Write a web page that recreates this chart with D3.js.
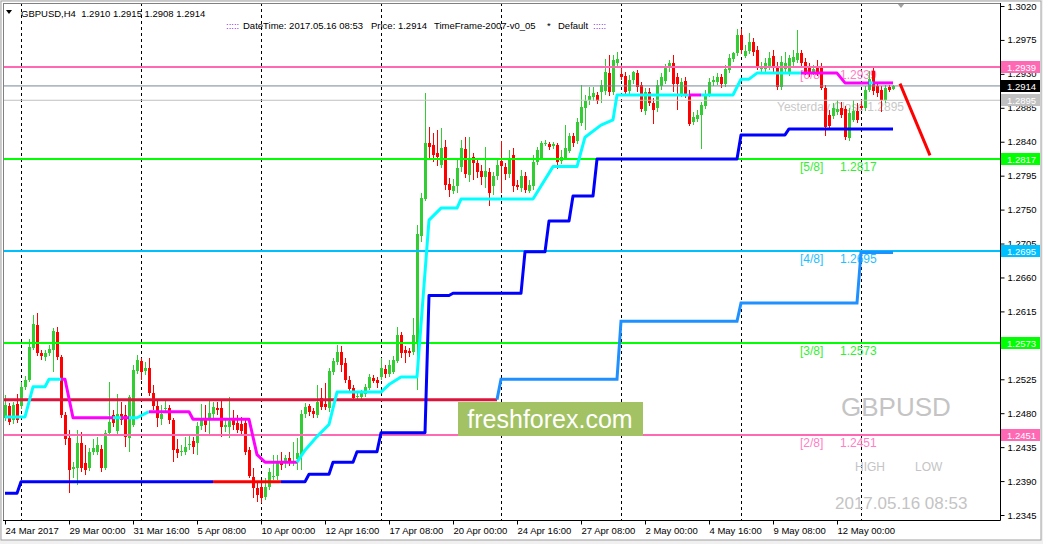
<!DOCTYPE html>
<html><head><meta charset="utf-8">
<script src="https://cdn.jsdelivr.net/npm/d3@7"></script>
<style>
html,body{margin:0;padding:0;background:#fff;}
svg{display:block;font-family:"Liberation Sans",Arial,sans-serif;}
</style></head><body>
<svg id="c" width="1043" height="544"></svg>
<script>
// ---------- DATA ----------
const opens=[1.2474,1.2490,1.2471,1.2492,1.2490,1.2515,1.2524,1.2567,1.2597,1.2560,
1.2555,1.2560,1.2564,1.2588,1.2555,1.2478,1.2447,1.2406,1.2407,1.2441,
1.2414,1.2407,1.2429,1.2429,1.2433,1.2407,1.2454,1.2478,1.2457,1.2479,
1.2478,1.2447,1.2465,1.2536,1.2549,1.2536,1.2540,1.2507,1.2490,1.2472,
1.2486,1.2487,1.2471,1.2433,1.2429,1.2429,1.2438,1.2443,1.2441,1.2463,
1.2474,1.2472,1.2479,1.2487,1.2487,1.2462,1.2462,1.2474,1.2467,1.2466,
1.2467,1.2431,1.2396,1.2381,1.2382,1.2369,1.2382,1.2396,1.2397,1.2414,
1.2414,1.2421,1.2414,1.2419,1.2425,1.2479,1.2490,1.2483,1.2478,1.2500,
1.2492,1.2487,1.2535,1.2548,1.2561,1.2547,1.2524,1.2514,1.2502,1.2502,
1.2506,1.2514,1.2527,1.2524,1.2528,1.2539,1.2532,1.2535,1.2549,1.2584,
1.2564,1.2563,1.2561,1.2573,1.2715,1.2764,1.2838,1.2836,1.2825,1.2809,
1.2833,1.2784,1.2775,1.2781,1.2807,1.2830,1.2796,1.2820,1.2812,1.2801,
1.2793,1.2800,1.2781,1.2795,1.2815,1.2807,1.2797,1.2822,1.2783,1.2779,
1.2795,1.2775,1.2781,1.2813,1.2819,1.2837,1.2837,1.2834,1.2836,1.2815,
1.2819,1.2828,1.2848,1.2841,1.2865,1.2885,1.2895,1.2899,1.2902,1.2906,
1.2907,1.2931,1.2906,1.2945,1.2930,1.2927,1.2907,1.2922,1.2931,1.2915,
1.2881,1.2906,1.2891,1.2885,1.2914,1.2921,1.2938,1.2945,1.2926,1.2903,
1.2921,1.2902,1.2866,1.2870,1.2876,1.2887,1.2903,1.2919,1.2919,1.2926,
1.2917,1.2935,1.2950,1.2958,1.2982,1.2954,1.2960,1.2972,1.2962,1.2937,
1.2937,1.2939,1.2954,1.2938,1.2913,1.2937,1.2931,1.2946,1.2948,1.2958,
1.2946,1.2939,1.2931,1.2939,1.2939,1.2911,1.2876,1.2874,1.2880,1.2885,
1.2883,1.2845,1.2869,1.2881,1.2887,1.2885,1.2909,1.2934,1.2914,1.2909,
1.2895,1.2913,1.2910];
const highs=[1.2504,1.2494,1.2495,1.2506,1.2521,1.2529,1.2578,1.2610,1.2613,1.2564,
1.2564,1.2571,1.2593,1.2594,1.2557,1.2482,1.2458,1.2415,1.2458,1.2455,
1.2438,1.2434,1.2446,1.2449,1.2438,1.2458,1.2521,1.2484,1.2506,1.2495,
1.2491,1.2504,1.2544,1.2557,1.2553,1.2548,1.2553,1.2518,1.2498,1.2491,
1.2498,1.2491,1.2474,1.2446,1.2438,1.2449,1.2450,1.2449,1.2468,1.2492,
1.2491,1.2498,1.2495,1.2495,1.2498,1.2471,1.2502,1.2484,1.2478,1.2475,
1.2474,1.2435,1.2407,1.2388,1.2392,1.2394,1.2407,1.2425,1.2425,1.2429,
1.2425,1.2429,1.2442,1.2447,1.2484,1.2494,1.2492,1.2487,1.2518,1.2514,
1.2520,1.2540,1.2553,1.2571,1.2569,1.2553,1.2529,1.2518,1.2507,1.2511,
1.2519,1.2532,1.2531,1.2528,1.2553,1.2544,1.2551,1.2556,1.2594,1.2588,
1.2569,1.2567,1.2606,1.2730,1.2772,1.2905,1.2860,1.2852,1.2856,1.2858,
1.2842,1.2792,1.2791,1.2816,1.2842,1.2846,1.2846,1.2825,1.2816,1.2809,
1.2833,1.2805,1.2800,1.2816,1.2841,1.2812,1.2829,1.2832,1.2789,1.2803,
1.2800,1.2789,1.2822,1.2833,1.2841,1.2842,1.2840,1.2840,1.2838,1.2829,
1.2862,1.2852,1.2852,1.2872,1.2915,1.2902,1.2913,1.2913,1.2906,1.2922,
1.2950,1.2955,1.2955,1.2959,1.2942,1.2933,1.2929,1.2934,1.2935,1.2919,
1.2911,1.2911,1.2898,1.2922,1.2931,1.2943,1.2948,1.2955,1.2931,1.2925,
1.2926,1.2909,1.2879,1.2882,1.2893,1.2909,1.2925,1.2927,1.2931,1.2930,
1.2942,1.2956,1.2959,1.2990,1.2990,1.2968,1.2984,1.2978,1.2967,1.2946,
1.2951,1.2959,1.2962,1.2946,1.2954,1.2959,1.2955,1.2962,1.2988,1.2962,
1.2951,1.2945,1.2942,1.2948,1.2945,1.2915,1.2882,1.2891,1.2895,1.2893,
1.2887,1.2885,1.2895,1.2891,1.2895,1.2914,1.2934,1.2939,1.2919,1.2914,
1.2915,1.2915,1.2915];
const lows=[1.2470,1.2464,1.2466,1.2467,1.2486,1.2511,1.2521,1.2564,1.2556,1.2551,
1.2549,1.2556,1.2535,1.2551,1.2474,1.2438,1.2374,1.2394,1.2385,1.2402,
1.2398,1.2403,1.2425,1.2425,1.2402,1.2405,1.2450,1.2462,1.2453,1.2465,
1.2435,1.2429,1.2462,1.2532,1.2524,1.2531,1.2503,1.2484,1.2462,1.2465,
1.2480,1.2466,1.2415,1.2421,1.2423,1.2425,1.2431,1.2426,1.2425,1.2458,
1.2455,1.2450,1.2471,1.2478,1.2449,1.2455,1.2447,1.2458,1.2454,1.2451,
1.2425,1.2394,1.2368,1.2362,1.2361,1.2365,1.2378,1.2392,1.2392,1.2405,
1.2407,1.2410,1.2410,1.2405,1.2405,1.2474,1.2476,1.2474,1.2474,1.2484,
1.2484,1.2482,1.2531,1.2544,1.2535,1.2520,1.2508,1.2498,1.2498,1.2498,
1.2502,1.2511,1.2520,1.2514,1.2524,1.2527,1.2528,1.2532,1.2547,1.2553,
1.2547,1.2555,1.2557,1.2511,1.2707,1.2761,1.2816,1.2813,1.2808,1.2805,
1.2776,1.2767,1.2771,1.2772,1.2800,1.2792,1.2787,1.2789,1.2792,1.2783,
1.2779,1.2755,1.2769,1.2789,1.2772,1.2789,1.2792,1.2773,1.2776,1.2773,
1.2772,1.2772,1.2776,1.2809,1.2816,1.2834,1.2829,1.2830,1.2804,1.2811,
1.2816,1.2825,1.2833,1.2837,1.2861,1.2856,1.2889,1.2894,1.2890,1.2891,
1.2902,1.2901,1.2902,1.2941,1.2922,1.2901,1.2902,1.2917,1.2906,1.2879,
1.2876,1.2887,1.2864,1.2879,1.2909,1.2917,1.2933,1.2906,1.2882,1.2899,
1.2898,1.2861,1.2862,1.2866,1.2830,1.2883,1.2899,1.2914,1.2915,1.2911,
1.2913,1.2931,1.2946,1.2954,1.2956,1.2951,1.2956,1.2954,1.2935,1.2933,
1.2933,1.2935,1.2933,1.2909,1.2909,1.2933,1.2927,1.2938,1.2945,1.2938,
1.2929,1.2926,1.2929,1.2927,1.2909,1.2848,1.2856,1.2870,1.2876,1.2871,
1.2842,1.2841,1.2866,1.2865,1.2882,1.2881,1.2906,1.2902,1.2899,1.2879,
1.2891,1.2906,1.2908];
const closes=[1.2491,1.2468,1.2491,1.2471,1.2515,1.2524,1.2568,1.2598,1.2560,1.2556,
1.2560,1.2565,1.2589,1.2555,1.2478,1.2446,1.2405,1.2409,1.2441,1.2407,
1.2405,1.2429,1.2434,1.2438,1.2407,1.2454,1.2468,1.2467,1.2479,1.2471,
1.2449,1.2502,1.2537,1.2551,1.2535,1.2540,1.2507,1.2490,1.2474,1.2479,
1.2487,1.2471,1.2431,1.2427,1.2430,1.2435,1.2439,1.2435,1.2463,1.2471,
1.2465,1.2480,1.2488,1.2484,1.2462,1.2465,1.2470,1.2465,1.2458,1.2457,
1.2429,1.2397,1.2381,1.2372,1.2368,1.2382,1.2402,1.2397,1.2414,1.2411,
1.2421,1.2414,1.2415,1.2427,1.2479,1.2488,1.2482,1.2479,1.2495,1.2488,
1.2488,1.2536,1.2549,1.2561,1.2544,1.2524,1.2512,1.2500,1.2503,1.2507,
1.2515,1.2528,1.2523,1.2520,1.2540,1.2532,1.2544,1.2551,1.2584,1.2560,
1.2560,1.2560,1.2584,1.2718,1.2765,1.2838,1.2833,1.2822,1.2820,1.2832,
1.2783,1.2776,1.2781,1.2805,1.2832,1.2797,1.2819,1.2812,1.2800,1.2793,
1.2801,1.2772,1.2795,1.2809,1.2808,1.2797,1.2817,1.2781,1.2780,1.2795,
1.2776,1.2783,1.2813,1.2829,1.2838,1.2838,1.2833,1.2837,1.2813,1.2820,
1.2832,1.2848,1.2838,1.2866,1.2886,1.2894,1.2901,1.2905,1.2894,1.2915,
1.2933,1.2906,1.2948,1.2950,1.2926,1.2906,1.2922,1.2933,1.2913,1.2883,
1.2906,1.2891,1.2882,1.2915,1.2926,1.2938,1.2945,1.2917,1.2917,1.2919,
1.2902,1.2864,1.2873,1.2876,1.2889,1.2902,1.2919,1.2922,1.2926,1.2917,
1.2937,1.2951,1.2958,1.2982,1.2962,1.2960,1.2972,1.2959,1.2939,1.2939,
1.2945,1.2951,1.2938,1.2913,1.2946,1.2945,1.2951,1.2952,1.2958,1.2945,
1.2933,1.2931,1.2937,1.2931,1.2911,1.2860,1.2861,1.2885,1.2883,1.2876,
1.2846,1.2878,1.2881,1.2869,1.2885,1.2909,1.2923,1.2907,1.2905,1.2895,
1.2911,1.2909,1.2914];

// trailing line (cyan above / magenta below)
const trendBar=[0,5,7,10,11,14,15,17,27,29,31,33,36,37,46,47,61,63,65,73,75,78,81,83,94,96,99,103,106,109,113,114,132,137,143,145,149,152,153,171,174,182,184,186,188,199,208,210,216,217,222];
const trendVal=[1.2475,1.2475,1.2515,1.2515,1.2525,1.2525,1.2525,1.2474,1.2474,1.2474,1.2474,1.2474,1.2482,1.2482,1.2482,1.2472,1.2472,1.2425,1.2415,1.2415,1.2431,1.2449,1.2465,1.2508,1.2508,1.2518,1.2528,1.2528,1.2736,1.2752,1.2752,1.2764,1.2764,1.2807,1.2807,1.2846,1.2862,1.2869,1.2902,1.2902,1.2902,1.2902,1.2923,1.2923,1.2931,1.2931,1.2931,1.2918,1.2918,1.2918,1.2918];
const trendState=["up","up","up","up","up","dn","dn","dn","up","dn","up","up","dn","dn","dn","dn","dn","dn","dn","up","up","up","up","up","up","up","up","up","up","up","up","up","up","up","up","up","up","up","up","dn","up","up","up","up","up","dn","dn","dn","up","dn","dn"];

// lower stepped line
const stepBar=[0,3,4,52,69,75,76,81,82,87,88,93,94,105,106,111,112,129,130,135,136,141,142,147,148,183,184,195,196,222];
const stepVal=[1.2374,1.2374,1.2389,1.2389,1.2389,1.2389,1.2399,1.2399,1.2415,1.2415,1.2429,1.2429,1.2454,1.2454,1.2636,1.2636,1.2639,1.2639,1.2694,1.2694,1.2735,1.2735,1.2768,1.2768,1.2817,1.2817,1.2849,1.2849,1.2857,1.2857];
const stepState=["n","n","n","x","n","n","n","n","n","n","n","n","n","n","n","n","n","n","n","n","n","n","n","n","n","n","n","n","n","n"];

// weekly stepped line
const weekBar=[123,124,153,154,183,184,213,214,222];
const weekVal=[1.2498,1.2525,1.2525,1.2602,1.2602,1.2626,1.2626,1.2693,1.2693];

// crimson level (left part)
const crimBar=[-0.5,123];
const crimVal=1.2498;

// Murrey levels
const levelVals=[1.2939,1.2817,1.2695,1.2573,1.2451];
const levelNames=["[6/8]","[5/8]","[4/8]","[3/8]","[2/8]"];
const bidPrice=1.2914;
const yesterdayClose=1.2895;

// forecast arrow line
const fcBar=[223.75,231.25];
const fcVal=[1.2917,1.2822];

// axes
const yTicks=[1.3020,1.2975,1.2930,1.2885,1.2840,1.2795,1.2750,1.2705,1.2660,1.2615,1.2570,1.2525,1.2480,1.2435,1.2390,1.2345];
const xTickBars=[0,16,32,48,64,80,96,112,128,144,160,176,192,208];
const xTickLabels=["24 Mar 2017","29 Mar 00:00","31 Mar 16:00","5 Apr 08:00","10 Apr 00:00","12 Apr 16:00","17 Apr 08:00","20 Apr 00:00","24 Apr 16:00","27 Apr 08:00","2 May 00:00","4 May 16:00","9 May 08:00","12 May 00:00"];
const weekSepBars=[4,34,64,94,124,154,184,214];

// ---------- DRAW ----------
const svg=d3.select('#c');
const PL=3,PT=3,PR=1000,PB=520;
const x=d3.scaleLinear().domain([0,222]).range([5,893]);
const y=d3.scaleLinear().domain([1.2345,1.3020]).range([515,6]);
const FONT='"Liberation Sans",Arial,sans-serif';

// window frame
svg.append('rect').attr('x',0).attr('y',0).attr('width',1043).attr('height',544).attr('fill','#f0f0f0');
svg.append('rect').attr('x',1).attr('y',1).attr('width',1040).attr('height',539).attr('fill','#fff').attr('stroke','#a0a0a0').attr('stroke-width',1);

const plot=svg.append('g');
const clip=svg.append('clipPath').attr('id','pc').append('rect').attr('x',PL).attr('y',PT).attr('width',PR-PL).attr('height',PB-PT);

// week separators
plot.selectAll('line.sep').data(weekSepBars).join('line')
 .attr('x1',d=>Math.round(x(d))+0.5).attr('x2',d=>Math.round(x(d))+0.5)
 .attr('y1',PT).attr('y2',PB).attr('stroke','#000').attr('stroke-width',1).attr('stroke-dasharray','3,3');

// level texts (behind candles)
const lvlColors=["#ff80c6","#33ee33","#1ec0ff","#33ee33","#ff80c6"];
const txt=plot.append('g').attr('font-family',FONT).attr('font-size',12);
levelVals.forEach((v,k)=>{
  txt.append('text').attr('x',800).attr('y',y(v)+12).attr('fill',lvlColors[k]).text(levelNames[k]);
  txt.append('text').attr('x',840).attr('y',y(v)+12).attr('fill',lvlColors[k]).text(v.toFixed(4));
});
txt.append('text').attr('x',777).attr('y',y(yesterdayClose)+11).attr('fill','#c8c8c8').text('Yesterday Close '+yesterdayClose.toFixed(4));

// candles
const cg=plot.append('g').attr('shape-rendering','crispEdges');
opens.forEach((o,i)=>{
  const c=closes[i], up=c>=o, col=up?'#32cd32':'#ff0000';
  const cx=Math.round(x(i));
  const hi=Math.max(highs[i],o,c), lo=Math.min(lows[i],o,c);
  cg.append('rect').attr('x',cx).attr('y',Math.round(y(hi))).attr('width',1).attr('height',Math.max(1,Math.round(y(lo))-Math.round(y(hi)))).attr('fill',col);
  const yt=Math.round(y(Math.max(o,c))), yb=Math.round(y(Math.min(o,c)));
  cg.append('rect').attr('x',cx-1).attr('y',yt).attr('width',3).attr('height',Math.max(1,yb-yt)).attr('fill',col);
});

// horizontal lines
function hline(v,col,w,x1,x2){
  plot.append('line').attr('x1',x1==null?PL:x1).attr('x2',x2==null?PR:x2).attr('y1',y(v)).attr('y2',y(v)).attr('stroke',col).attr('stroke-width',w);
}
hline(yesterdayClose,'#c0c0c0',1);
hline(bidPrice,'#778899',1);
hline(levelVals[0],'#ff69b4',2);
hline(levelVals[1],'#00ff00',2);
hline(levelVals[2],'#00bfff',2);
hline(levelVals[3],'#00ff00',2);
hline(levelVals[4],'#ff69b4',2);
hline(crimVal,'#dc143c',3,PL,x(crimBar[1]));

// stepped/segmented lines
const lg=d3.line().x(d=>x(d[0])).y(d=>y(d[1]));
function segLines(bars,vals,states,cmap,w){
  let runs=[],cur=null;
  for(let k=0;k<bars.length-1;k++){
    const c=cmap[states[k]];
    if(!cur||cur.c!==c){cur={c:c,pts:[[bars[k],vals[k]]]};runs.push(cur);}
    cur.pts.push([bars[k+1],vals[k+1]]);
  }
  runs.forEach(r=>plot.append('path').attr('d',lg(r.pts)).attr('fill','none').attr('stroke',r.c).attr('stroke-width',w).attr('stroke-linejoin','round'));
}
plot.append('path').attr('d',lg(weekBar.map((b,i)=>[b,weekVal[i]]))).attr('fill','none').attr('stroke','#1e90ff').attr('stroke-width',3);
segLines(stepBar,stepVal,stepState,{n:'#0000ff',x:'#ff0000'},3);
segLines(trendBar,trendVal,trendState,{up:'#00ffff',dn:'#ff00ff'},3);

// forecast line
plot.append('path').attr('d',lg(fcBar.map((b,i)=>[b,fcVal[i]]))).attr('stroke','#ff0000').attr('stroke-width',3).attr('fill','none');

// logo
plot.append('rect').attr('x',458).attr('y',402).attr('width',185).attr('height',34).attr('fill','#a3c263');
plot.append('text').attr('x',550).attr('y',428).attr('text-anchor','middle').attr('font-family',FONT).attr('font-size',25).attr('fill','#fff').text('freshforex.com');

// watermark texts
plot.append('text').attr('x',841).attr('y',416).attr('font-family',FONT).attr('font-size',26).attr('fill','#c4c4c4').text('GBPUSD');
plot.append('text').attr('x',855).attr('y',471).attr('font-family',FONT).attr('font-size',12).attr('fill','#c4c4c4').text('HIGH');
plot.append('text').attr('x',915).attr('y',471).attr('font-family',FONT).attr('font-size',12).attr('fill','#c4c4c4').text('LOW');
plot.append('text').attr('x',835).attr('y',509).attr('font-family',FONT).attr('font-size',17).attr('fill','#c4c4c4').text('2017.05.16 08:53');

// header
const hd=svg.append('g').attr('font-family',FONT).attr('font-size',9.5).attr('fill','#000');
hd.append('path').attr('d','M6,10 L12,10 L9,14 Z').attr('fill','#000');
hd.append('text').attr('x',21).attr('y',17).attr('xml:space','preserve').text('GBPUSD,H4  '+[opens[222],highs[222],lows[222],closes[222]].map(d=>d.toFixed(4)).join(' '));
hd.append('text').attr('x',226).attr('y',29).attr('fill','#8a2be2').text(':::::');
hd.append('text').attr('x',243).attr('y',29).text('DateTime: 2017.05.16 08:53');
hd.append('text').attr('x',371).attr('y',29).text('Price: '+bidPrice.toFixed(4));
hd.append('text').attr('x',434).attr('y',29).text('TimeFrame-2007-v0_05');
hd.append('text').attr('x',547).attr('y',29).text('*');
hd.append('text').attr('x',558).attr('y',29).text('Default');
hd.append('text').attr('x',593).attr('y',29).attr('fill','#8a2be2').text(':::::');
svg.append('path').attr('d','M897,3 L905,3 L901,8 Z').attr('fill','#a0a0a0');

// plot frame
svg.append('line').attr('x1',PL+0.5).attr('x2',PL+0.5).attr('y1',PT).attr('y2',PB).attr('stroke','#808080');
svg.append('line').attr('x1',PL).attr('x2',PR).attr('y1',PT+0.5).attr('y2',PT+0.5).attr('stroke','#808080');

// right axis
const ya=svg.append('g').attr('transform',`translate(${PR+0.5},0)`)
 .call(d3.axisRight(y).tickValues(yTicks).tickFormat(d3.format('.4f')).tickSize(4).tickPadding(3));
ya.select('.domain').remove();
ya.selectAll('text').attr('font-family',FONT).attr('font-size',9.5).attr('fill','#000');
ya.selectAll('line').attr('stroke','#000');
svg.append('line').attr('x1',PR+0.5).attr('x2',PR+0.5).attr('y1',PT).attr('y2',PB+0.5).attr('stroke','#000');

// bottom axis
const xa=svg.append('g').attr('transform',`translate(0,${PB+0.5})`)
 .call(d3.axisBottom(x).tickValues(xTickBars).tickFormat((d,i)=>xTickLabels[i]).tickSize(4).tickPadding(3));
xa.select('.domain').remove();
xa.selectAll('text').attr('font-family',FONT).attr('font-size',9.5).attr('fill','#000').attr('text-anchor','start').attr('dx',0);
xa.selectAll('line').attr('stroke','#000');
svg.append('line').attr('x1',PL).attr('x2',PR+0.5).attr('y1',PB+0.5).attr('y2',PB+0.5).attr('stroke','#000');

// price label boxes
const boxes=[
 {v:levelVals[0],bg:'#ff69b4'},
 {v:bidPrice,bg:'#000000'},
 {v:yesterdayClose,bg:'#c0c0c0'},
 {v:levelVals[1],bg:'#00ff00'},
 {v:levelVals[2],bg:'#00bfff'},
 {v:levelVals[3],bg:'#00ff00'},
 {v:levelVals[4],bg:'#ff69b4'}
];
const bx=svg.append('g');
boxes.forEach(b=>{
  const yy=Math.round(y(b.v));
  bx.append('rect').attr('x',PR+1).attr('y',yy-6).attr('width',39).attr('height',12).attr('fill',b.bg);
  bx.append('text').attr('x',PR+7).attr('y',yy+3.5).attr('font-family',FONT).attr('font-size',9.5).attr('fill','#fff').text(b.v.toFixed(4));
});
</script>
</body></html>
